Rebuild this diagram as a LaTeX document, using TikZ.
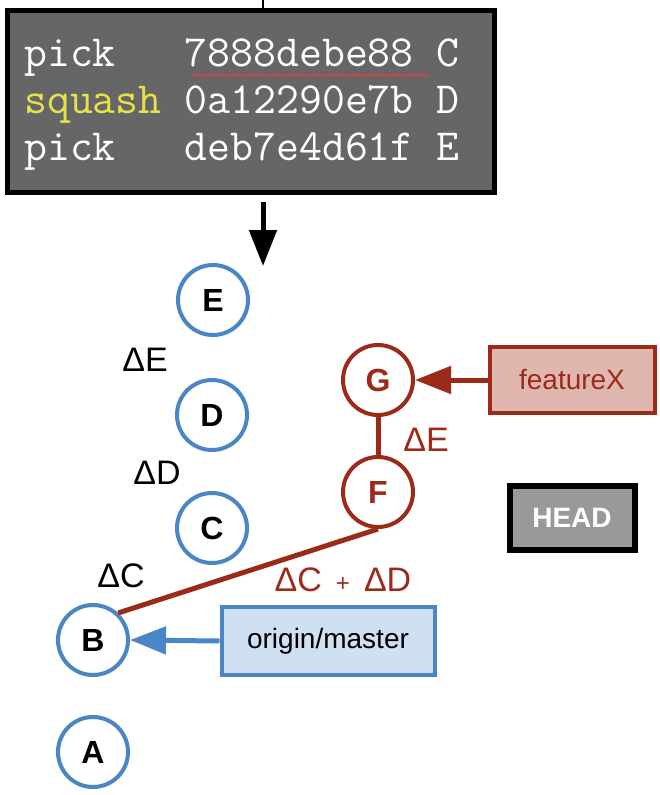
\documentclass[tikz,border=0pt]{standalone}
\usepackage{fontspec}
\setmainfont{Liberation Sans}
\usetikzlibrary{arrows.meta,decorations.pathmorphing}
\definecolor{cblue}{HTML}{4A86C6}
\definecolor{cred}{HTML}{9B2A18}
\definecolor{lblue}{HTML}{CFE0F3}
\definecolor{lred}{HTML}{DFB7AE}
\definecolor{codegray}{HTML}{666666}
\definecolor{headgray}{HTML}{999999}
\definecolor{sqyellow}{HTML}{E6E34A}
\definecolor{wavred}{HTML}{E04040}
\begin{document}
\begin{tikzpicture}[x=1pt,y=-1pt,
  commit/.style={circle,minimum size=70pt,inner sep=0pt,line width=4pt,fill=white,font=\fontsize{32}{32}\selectfont\bfseries},
  bcommit/.style={commit,draw=cblue,text=black},
  rcommit/.style={commit,draw=cred,text=cred},
  delta/.style={inner sep=0pt,font=\fontsize{34}{34}\selectfont},
  codeline/.style={anchor=base west,inner sep=0pt,text=white,font=\ttfamily\fontsize{44.5}{46}\selectfont},
  branchbox/.style={rectangle,inner sep=0pt,line width=4pt,font=\fontsize{28}{28}\selectfont},
  bigarrow/.style={line width=5pt,-{Triangle[length=36pt,width=27pt]}}]
\useasboundingbox (0,0) rectangle (659,795);

% code box
\node[rectangle,draw=black,line width=5pt,fill=codegray,minimum width=487pt,minimum height=182pt,inner sep=0pt] (code) at (251,101) {};
\coordinate (stubT) at (263,0);
\draw[line width=2pt] (stubT) -- (code.north -| stubT);
\node[codeline] (l1) at (24,66) {pick\ \ \ 7888debe88 C};
\node[codeline] (l2) at (24,113) {\textcolor{sqyellow}{squash} 0a12290e7b D};
\node[codeline] (l3) at (24,160) {pick\ \ \ deb7e4d61f E};
\coordinate (wavS) at (192,75);
\coordinate (wavE) at (429,75);
\draw[wavred,line width=1pt,decorate,decoration={snake,amplitude=1.3pt,segment length=5pt}] (wavS) -- (wavE);

% black arrow
\coordinate (arrS) at (263,202);
\coordinate (arrE) at (263,266);
\draw[bigarrow,black] (arrS) -- (arrE);

% commits
\node[bcommit] (E) at (213,300) {E};
\node[bcommit] (D) at (212,415) {D};
\node[bcommit] (C) at (212,528) {C};
\node[bcommit] (B) at (93,640) {B};
\node[bcommit] (A) at (93,752) {A};
\node[rcommit] (G) at (378,380) {G};
\node[rcommit] (F) at (378,492) {F};

\draw[cred,line width=5pt] (G) -- (F);
\draw[cred,line width=5pt] (F.south) -- (B.47);

% delta labels
\node[delta] (dE) at (145,360) {ΔE};
\node[delta] (dD) at (157,473) {ΔD};
\node[delta] (dC) at (121,576) {ΔC};
\node[delta,text=cred] (dE2) at (426,440) {ΔE};
\node[delta,text=cred] (dCD) at (343,580) {ΔC\hspace{14pt}{\fontsize{24}{24}\selectfont +}\hspace{14pt}ΔD};

% branch boxes
\node[branchbox,draw=cred,fill=lred,text=cred,minimum width=165pt,minimum height=66pt] (fx) at (572,380) {featureX};
\node[branchbox,draw=black,line width=6pt,fill=headgray,text=white,minimum width=125pt,minimum height=64pt,font=\fontsize{28}{28}\selectfont\bfseries] (head) at (572,518) {HEAD};
\node[branchbox,draw=cblue,fill=lblue,text=black,minimum width=213pt,minimum height=68pt] (om) at (328,641) {origin/master};

\draw[bigarrow,cred] (fx.west) -- (G.east);
\draw[bigarrow,cblue] (om.west) -- (B.east);
\end{tikzpicture}
\end{document}
